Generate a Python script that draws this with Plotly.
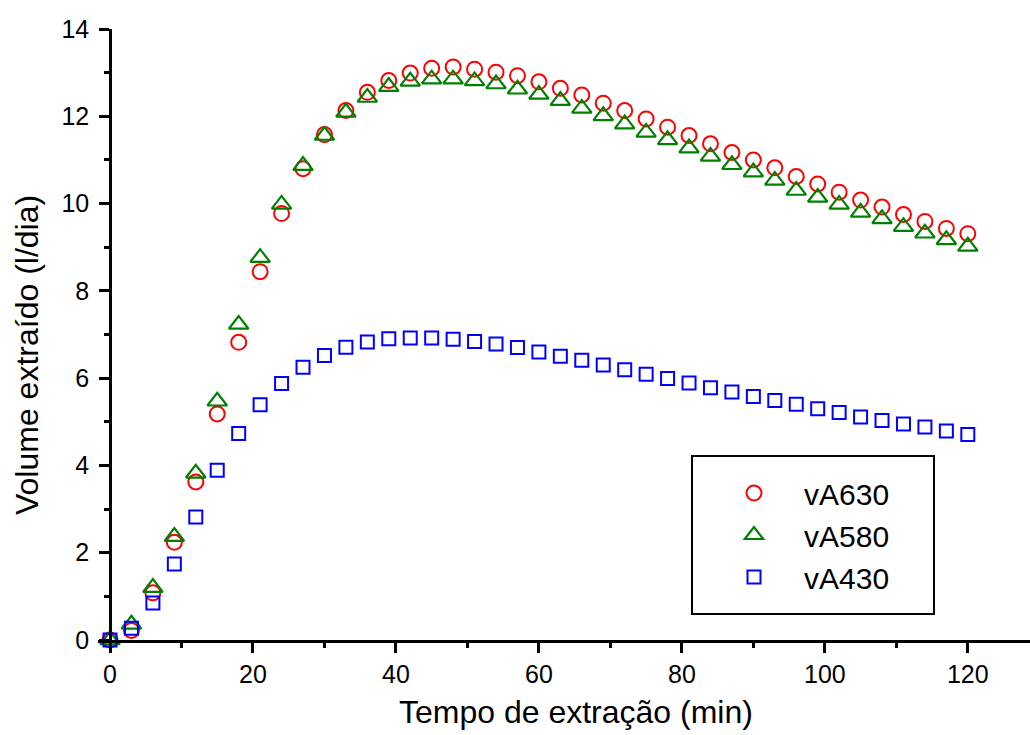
import plotly.graph_objects as go

# ---- data ----
time_min = [0, 3, 6, 9, 12, 15, 18, 21, 24, 27, 30, 33, 36, 39, 42, 45, 48, 51, 54, 57,
            60, 63, 66, 69, 72, 75, 78, 81, 84, 87, 90, 93, 96, 99, 102, 105, 108, 111,
            114, 117, 120]

vA630 = [0.0, 0.22, 1.08, 2.24, 3.62, 5.18, 6.82, 8.44, 9.77, 10.80, 11.58, 12.13, 12.55,
         12.82, 12.99, 13.10, 13.13, 13.08, 13.01, 12.93, 12.79, 12.64, 12.49, 12.30, 12.13,
         11.94, 11.75, 11.56, 11.37, 11.17, 11.00, 10.82, 10.62, 10.45, 10.26, 10.08, 9.92,
         9.75, 9.59, 9.43, 9.31]

vA580 = [0.0, 0.36, 1.20, 2.37, 3.82, 5.47, 7.23, 8.76, 9.98, 10.87, 11.56, 12.09, 12.43,
         12.68, 12.80, 12.85, 12.85, 12.81, 12.74, 12.62, 12.50, 12.36, 12.18, 12.01, 11.82,
         11.63, 11.46, 11.27, 11.08, 10.89, 10.72, 10.53, 10.30, 10.14, 9.98, 9.80, 9.65,
         9.47, 9.32, 9.17, 9.02]

vA430 = [0.0, 0.27, 0.85, 1.74, 2.82, 3.89, 4.73, 5.39, 5.88, 6.25, 6.52, 6.71, 6.83,
         6.90, 6.92, 6.92, 6.89, 6.84, 6.78, 6.70, 6.60, 6.50, 6.41, 6.30, 6.19,
         6.09, 5.99, 5.89, 5.78, 5.68, 5.58, 5.49, 5.40, 5.30, 5.21, 5.11, 5.03,
         4.95, 4.88, 4.79, 4.71]

series_names = ["vA630", "vA580", "vA430"]
x_ticks = [0, 20, 40, 60, 80, 100, 120]
y_ticks = [0, 2, 4, 6, 8, 10, 12, 14]

FONT = "Arial, Liberation Sans, sans-serif"

fig = go.Figure()
fig.add_trace(go.Scatter(
    x=time_min, y=vA630, mode="markers", name=series_names[0], cliponaxis=False,
    marker=dict(symbol="circle-open", size=15, color="#FF0000", line=dict(width=2, color="#FF0000"))))
fig.add_trace(go.Scatter(
    x=time_min, y=vA580, mode="markers", name=series_names[1], cliponaxis=False,
    marker=dict(symbol="triangle-up-open", size=17, color="#008000", line=dict(width=2.2, color="#008000"))))
fig.add_trace(go.Scatter(
    x=time_min, y=vA430, mode="markers", name=series_names[2], cliponaxis=False,
    marker=dict(symbol="square-open", size=13, color="#0000FF", line=dict(width=2, color="#0000FF"))))

L, R, T, B = 98, 0, 29, 95
W, H = 1030, 735
pw = W - L - R
ph = H - T - B

fig.update_layout(
    width=W, height=H,
    margin=dict(l=L, r=R, t=T, b=B, pad=0),
    paper_bgcolor="white", plot_bgcolor="white",
    font=dict(family=FONT, color="black"),
    showlegend=True,
    legend=dict(
        x=(704 - L) / pw, y=(640 - 467) / ph, xanchor="left", yanchor="top",
        bgcolor="rgba(0,0,0,0)", borderwidth=0,
        font=dict(size=30, family=FONT, color="black"),
        itemwidth=90,
    ),
    xaxis=dict(
        range=[-1.68, 128.7], showgrid=False, zeroline=False,
        showline=True, linecolor="black", linewidth=2.5,
        ticks="outside", ticklen=10, tickwidth=2.5, tickcolor="black",
        tickmode="array", tickvals=x_ticks, ticktext=[str(v) for v in x_ticks],
        tickfont=dict(size=25, family=FONT, color="black"),
        minor=dict(tickmode="array", tickvals=[10, 30, 50, 70, 90, 110], ticks="outside",
                   ticklen=5, tickwidth=2.5, tickcolor="black"),
    ),
    yaxis=dict(
        range=[0, 14], showgrid=False, zeroline=False,
        anchor="free", position=(110 - L) / pw,
        showline=True, linecolor="black", linewidth=2.5,
        ticks="outside", ticklen=10, tickwidth=2.5, tickcolor="black",
        tickmode="array", tickvals=y_ticks, ticktext=[str(v) for v in y_ticks],
        tickfont=dict(size=25, family=FONT, color="black"),
        ticklabelstandoff=5,
        minor=dict(tickmode="array", tickvals=[1, 3, 5, 7, 9, 11, 13], ticks="outside",
                   ticklen=5, tickwidth=2.5, tickcolor="black"),
    ),
    shapes=[dict(
        type="rect", xref="paper", yref="paper",
        x0=(692 - L) / pw, x1=(934 - L) / pw,
        y0=(640 - 614) / ph, y1=(640 - 456) / ph,
        line=dict(color="black", width=2), fillcolor="rgba(0,0,0,0)", layer="below")],
    annotations=[
        dict(text="Tempo de extração (min)", xref="paper", yref="paper",
             x=(576 - L) / pw, y=(640 - 712) / ph, xanchor="center", yanchor="middle",
             showarrow=False, font=dict(size=32, family=FONT, color="black")),
        dict(text="Volume extraído (l/dia)", xref="paper", yref="paper",
             x=(27 - L) / pw, y=(640 - 355) / ph, xanchor="center", yanchor="middle",
             textangle=-90, showarrow=False, font=dict(size=32, family=FONT, color="black")),
    ],
)

fig.write_html("out.html")
